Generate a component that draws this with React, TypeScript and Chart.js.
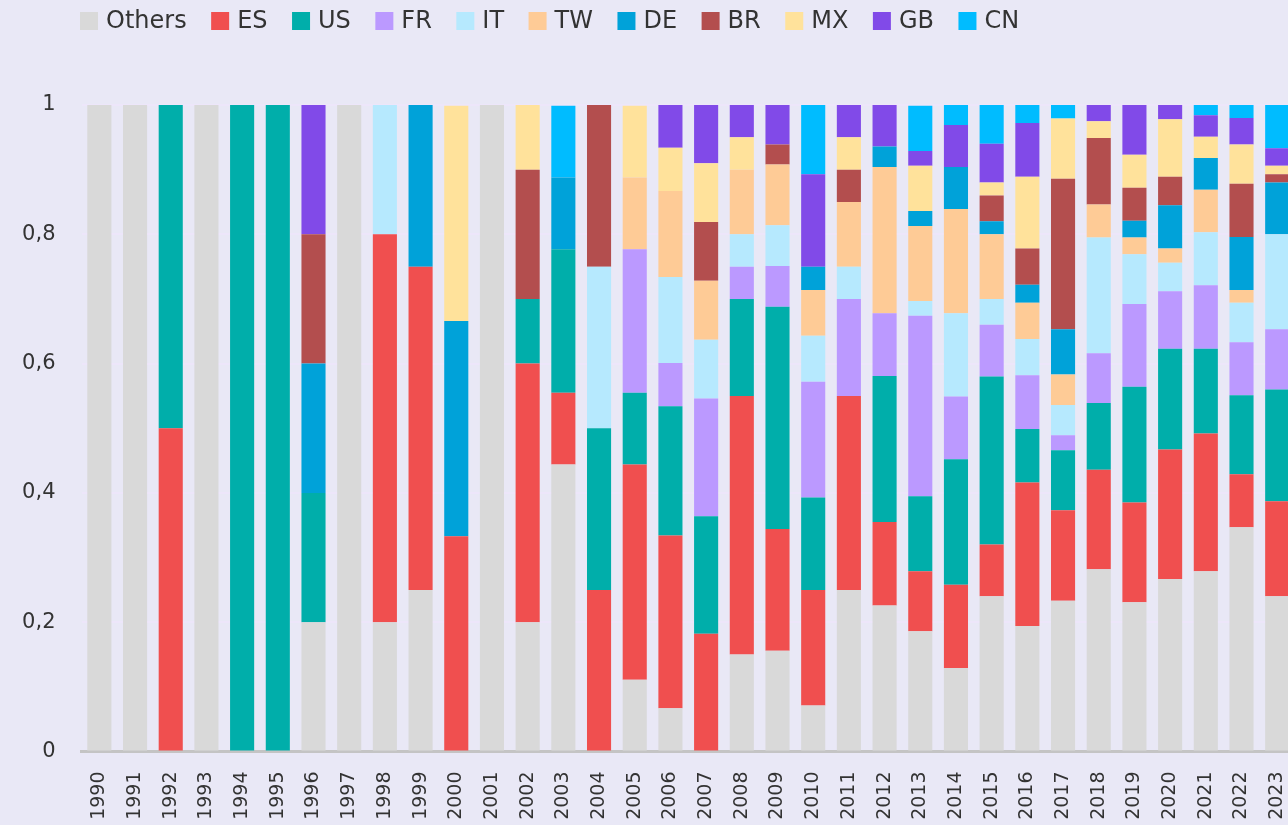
import React, { useEffect, useRef } from 'react';
import { Chart, registerables } from 'chart.js';

Chart.register(...registerables);

const YEARS = [
  '1990', '1991', '1992', '1993', '1994', '1995', '1996', '1997', '1998', '1999',
  '2000', '2001', '2002', '2003', '2004', '2005', '2006', '2007', '2008', '2009',
  '2010', '2011', '2012', '2013', '2014', '2015', '2016', '2017', '2018', '2019',
  '2020', '2021', '2022', '2023',
];

const OTHERS = [1, 1, 0, 1, 0, 0, 0.2, 1, 0.2, 0.25,
  0, 1, 0.2, 0.444, 0, 0.111, 0.067, 0, 0.15, 0.156,
  0.071, 0.25, 0.226, 0.186, 0.129, 0.24, 0.194, 0.233, 0.282, 0.231,
  0.267, 0.279, 0.347, 0.24];
const ES = [0, 0, 0.5, 0, 0, 0, 0, 0, 0.6, 0.5,
  0.333, 0, 0.4, 0.111, 0.25, 0.333, 0.267, 0.182, 0.4, 0.188,
  0.179, 0.3, 0.129, 0.093, 0.129, 0.08, 0.222, 0.14, 0.154, 0.154,
  0.2, 0.213, 0.082, 0.147];
const US = [0, 0, 0.5, 0, 1, 1, 0.2, 0, 0, 0,
  0, 0, 0.1, 0.222, 0.25, 0.111, 0.2, 0.182, 0.15, 0.344,
  0.143, 0, 0.226, 0.116, 0.194, 0.26, 0.083, 0.093, 0.103, 0.179,
  0.156, 0.131, 0.122, 0.173];
const FR = [0, 0, 0, 0, 0, 0, 0, 0, 0, 0,
  0, 0, 0, 0, 0, 0.222, 0.067, 0.182, 0.05, 0.063,
  0.179, 0.15, 0.097, 0.279, 0.097, 0.08, 0.083, 0.023, 0.077, 0.128,
  0.089, 0.098, 0.082, 0.093];
const IT = [0, 0, 0, 0, 0, 0, 0, 0, 0.2, 0,
  0, 0, 0, 0, 0.25, 0, 0.133, 0.091, 0.05, 0.063,
  0.071, 0.05, 0, 0.023, 0.129, 0.04, 0.056, 0.047, 0.179, 0.077,
  0.044, 0.082, 0.061, 0.147];
const TW = [0, 0, 0, 0, 0, 0, 0, 0, 0, 0,
  0, 0, 0, 0, 0, 0.111, 0.133, 0.091, 0.1, 0.094,
  0.071, 0.1, 0.226, 0.116, 0.161, 0.1, 0.056, 0.047, 0.051, 0.026,
  0.022, 0.066, 0.02, 0];
const DE = [0, 0, 0, 0, 0, 0, 0.2, 0, 0, 0.25,
  0.333, 0, 0, 0.111, 0, 0, 0, 0, 0, 0,
  0.036, 0, 0.032, 0.023, 0.065, 0.02, 0.028, 0.07, 0, 0.026,
  0.067, 0.049, 0.082, 0.08];
const BR = [0, 0, 0, 0, 0, 0, 0.2, 0, 0, 0,
  0, 0, 0.2, 0, 0.25, 0, 0, 0.091, 0, 0.031,
  0, 0.05, 0, 0, 0, 0.04, 0.056, 0.233, 0.103, 0.051,
  0.044, 0, 0.082, 0.013];
const MX = [0, 0, 0, 0, 0, 0, 0, 0, 0, 0,
  0.333, 0, 0.1, 0, 0, 0.111, 0.067, 0.091, 0.05, 0,
  0, 0.05, 0, 0.07, 0, 0.02, 0.111, 0.093, 0.026, 0.051,
  0.089, 0.033, 0.061, 0.013];
const GB = [0, 0, 0, 0, 0, 0, 0.2, 0, 0, 0,
  0, 0, 0, 0, 0, 0, 0.067, 0.091, 0.05, 0.063,
  0.143, 0.05, 0.065, 0.023, 0.065, 0.06, 0.083, 0, 0.026, 0.077,
  0.022, 0.033, 0.041, 0.027];
const CN = [0, 0, 0, 0, 0, 0, 0, 0, 0, 0,
  0, 0, 0, 0.111, 0, 0, 0, 0, 0, 0,
  0.107, 0, 0, 0.07, 0.032, 0.06, 0.028, 0.023, 0, 0,
  0, 0.016, 0.02, 0.067];

const SERIES_LABELS = ['Others', 'ES', 'US', 'FR', 'IT', 'TW', 'DE', 'BR', 'MX', 'GB', 'CN'];
const SERIES_VALUES = [OTHERS, ES, US, FR, IT, TW, DE, BR, MX, GB, CN];
const SERIES_COLORS = [
  '#d9d9d9', '#f04f4f', '#00aeaa', '#bb99ff', '#b6e9fe', '#fecb96',
  '#00a2d9', '#b34e4e', '#ffe29b', '#814ae8', '#00bcff',
];

const BG = '#e9e8f6';
const FONT = "'DejaVu Sans', sans-serif";
const TEXT_COLOR = '#333333';
const W = 1320;
const H = 845;

const legendPlugin = {
  id: 'topLegend',
  afterDraw(chart: any) {
    const ctx = chart.ctx;
    ctx.save();
    ctx.font = `24px ${FONT}`;
    ctx.textBaseline = 'middle';
    ctx.textAlign = 'left';
    let x = chart.chartArea.left - 1.5;
    const yc = 21;
    chart.data.datasets.forEach((ds: any) => {
      ctx.fillStyle = ds.backgroundColor;
      ctx.fillRect(x, yc - 9, 18, 18);
      ctx.fillStyle = TEXT_COLOR;
      ctx.fillText(ds.label, x + 26, yc + 1);
      x += 26 + ctx.measureText(ds.label).width + 24.5;
    });
    ctx.restore();
  },
};

export default function App() {
  const canvasRef = useRef<HTMLCanvasElement | null>(null);

  useEffect(() => {
    if (!canvasRef.current) return;
    const chart = new Chart(canvasRef.current, {
      type: 'bar',
      data: {
        labels: YEARS,
        datasets: SERIES_LABELS.map((label, i) => ({
          label,
          data: SERIES_VALUES[i],
          backgroundColor: SERIES_COLORS[i],
          borderWidth: 0,
          barPercentage: 0.675,
          categoryPercentage: 1,
        })),
      },
      options: {
        responsive: false,
        animation: false,
        layout: { padding: { top: 105, left: 0, right: 0, bottom: 0 } },
        plugins: {
          legend: { display: false },
          tooltip: { enabled: false },
        },
        scales: {
          x: {
            stacked: true,
            z: 1,
            grid: { display: false, drawTicks: false },
            border: { display: true, color: '#c4c4c4', width: 3 },
            ticks: {
              autoSkip: false,
              minRotation: 90,
              maxRotation: 90,
              padding: 20,
              color: TEXT_COLOR,
              font: { family: FONT, size: 19 },
            },
            afterFit: (s: any) => { s.height = H - 751.5; },
          },
          y: {
            stacked: true,
            min: 0,
            max: 1,
            z: 1,
            grid: { color: 'rgba(242, 228, 255, 0.45)', lineWidth: 2, drawTicks: false },
            border: { display: false },
            ticks: {
              stepSize: 0.2,
              padding: 26,
              color: TEXT_COLOR,
              font: { family: FONT, size: 21 },
              callback: (v: any) => String(Math.round(Number(v) * 10) / 10).replace('.', ','),
            },
            afterFit: (s: any) => { s.width = 81.5; },
          },
        },
      },
      plugins: [legendPlugin],
    });
    return () => chart.destroy();
  }, []);

  return (
    <div style={{ position: 'fixed', left: 0, top: 0, width: '100vw', height: '100vh', overflow: 'hidden', background: BG }}>
      <canvas
        ref={canvasRef}
        width={W}
        height={H}
        style={{ position: 'absolute', left: 0, top: 0, width: W, height: H, display: 'block' }}
      />
    </div>
  );
}
